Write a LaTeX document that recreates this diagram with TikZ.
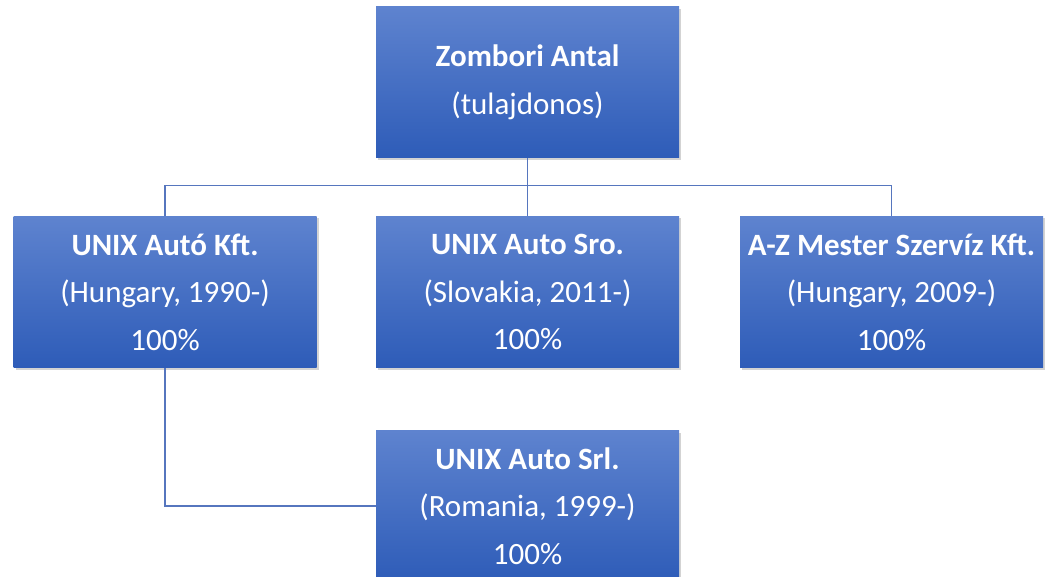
\documentclass[tikz,border=0pt]{standalone}
\usepackage{fontspec}
\setmainfont{Carlito}
\usetikzlibrary{shadows}
\definecolor{boxtop}{RGB}{94,131,207}
\definecolor{boxbot}{RGB}{46,92,184}
\definecolor{linkblue}{RGB}{86,118,190}
\begin{document}
\begin{tikzpicture}[x=1pt, y=-1pt,
  every node/.style={rectangle, minimum width=303pt, minimum height=151pt, inner sep=0pt,
    top color=boxtop, bottom color=boxbot, text=white, align=center,
    font=\fontsize{31}{47.5}\selectfont,
    drop shadow={shadow xshift=2pt, shadow yshift=-2pt, opacity=0.35}},
  link/.style={linkblue, line width=1.4pt}]
 \useasboundingbox (0,0) rectangle (1049,577);
 \clip (0,0) rectangle (1049,577);
 \node (owner) at (527.5,82.5) {\textbf{Zombori Antal}\\(tulajdonos)};
 \node (hu) at (165,292) {\textbf{UNIX Autó Kft.}\\(Hungary, 1990-)\\100\%};
 \node (sk) at (527.5,292) {\textbf{UNIX Auto Sro.}\\(Slovakia, 2011-)\\100\%};
 \node (az) at (891.5,292) {\textbf{A-Z Mester Szervíz Kft.}\\(Hungary, 2009-)\\100\%};
 \node (ro) at (527.5,506) {\textbf{UNIX Auto Srl.}\\(Romania, 1999-)\\100\%};
 \draw[link] (owner.south) -- (sk.north);
 \draw[link] (owner.south) -- +(0,27.5) -| (hu.north);
 \draw[link] (owner.south) -- +(0,27.5) -| (az.north);
 \draw[link] (hu.south) |- (ro.west);
\end{tikzpicture}
\end{document}
